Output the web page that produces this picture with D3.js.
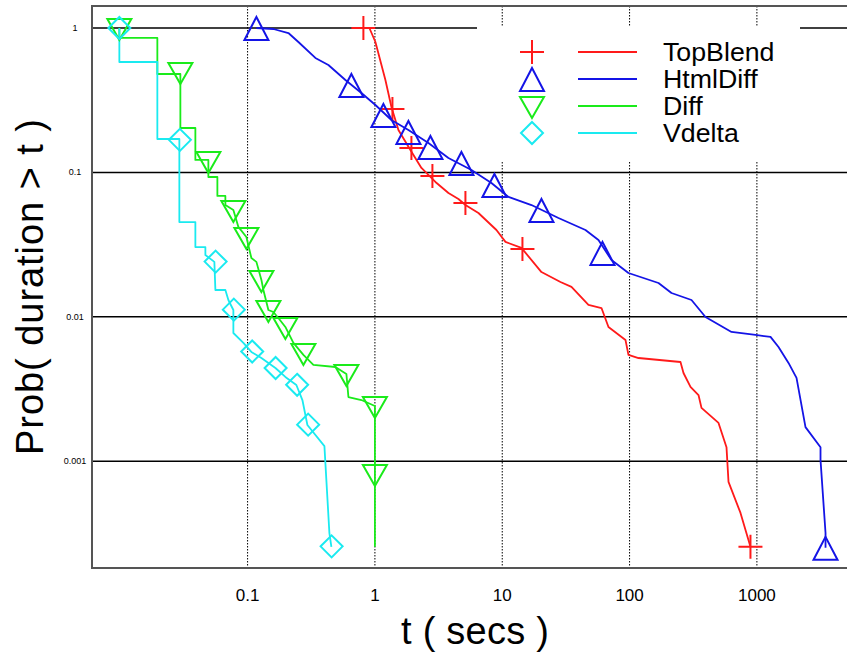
<!DOCTYPE html>
<html>
<head>
<meta charset="utf-8">
<style>
  body { margin: 0; background: #fff; }
  text { font-family: "Liberation Sans", Arial, Helvetica, sans-serif; fill: #000; }
</style>
</head>
<body>
<svg width="847" height="657"></svg>
<script src="https://d3js.org/d3.v7.min.js"></script>
<script>
// survival curves: [t (secs), Prob(duration > t)]
var seriesNames = ["TopBlend", "HtmlDiff", "Diff", "Vdelta"];

var topBlendLine = [[0.812,1],[0.905,1],[1.009,0.800],[1.209,0.436],[1.348,0.2838],[1.530,0.1966],[1.900,0.1429],
  [2.319,0.1073],[2.987,0.0858],[3.780,0.0720],[4.528,0.0654],[5.139,0.0594],[6.501,0.0523],[9.003,0.0399],
  [10.60,0.0330],[14.15,0.0300],[20.32,0.0204],[28.66,0.0174],[34.97,0.0161],[47.55,0.01207],[60.17,0.01150],
  [68.28,0.00850],[92.86,0.00691],[98.0,0.00544],[117.5,0.00518],[251.1,0.00486],[265.1,0.00408],[300.9,0.00327],
  [347.8,0.00287],[367.1,0.00234],[499.5,0.00184],[577.0,0.00125],[598.4,0.000718],[743.3,0.000438],[890,0.000255]];
var topBlendMarks = [[0.812,1],[1.373,0.2748],[1.935,0.1476],[2.829,0.0944],[5.139,0.0614],[14.41,0.0295],[890,0.000255]];

var htmlDiffLine = [[0.1173,1],[0.1594,0.984],[0.2092,0.923],[0.2506,0.800],[0.3408,0.620],[0.4312,0.554],[0.5865,0.436],
  [0.7834,0.3548],[1.009,0.2929],[1.348,0.2306],[1.833,0.1966],[2.633,0.1598],[3.780,0.1258],[5.731,0.1039],
  [8.226,0.0844],[11.19,0.0676],[16.96,0.0594],[27.64,0.0483],[45.04,0.0399],[56.98,0.0340],[72.10,0.0247],
  [98.0,0.0201],[168.7,0.01714],[213.4,0.01461],[306.4,0.01307],[394.7,0.00997],[631.7,0.00785],[975.0,0.00748],
  [1279,0.00725],[1478,0.00618],[1771,0.00479],[2047,0.00377],[2408,0.00172],[3159,0.00125],[3159,0.00102],
  [3459,0.000318],[3459,0.000251]];
var htmlDiffMarks = [[0.1173,1],[0.6536,0.403],[1.166,0.2496],[1.833,0.1905],[2.729,0.150],[4.780,0.1162],
  [8.684,0.0818],[20.32,0.0549],[61.26,0.0277],[3459,0.000251]];

var diffLine = [[0.00984,1],[0.00984,0.853],[0.01956,0.853],[0.01956,0.480],[0.02966,0.480],[0.02966,0.2030],
  [0.03890,0.2030],[0.03890,0.1219],[0.04921,0.1219],[0.04921,0.0929],[0.05792,0.0929],[0.05792,0.0687],
  [0.06693,0.0687],[0.06693,0.0594],[0.07734,0.0549],[0.08468,0.0419],[0.09786,0.0357],[0.1071,0.0255],
  [0.1173,0.0240],[0.1284,0.0180],[0.1331,0.01533],[0.1457,0.01114],[0.1594,0.01079],[0.1745,0.00981],
  [0.1981,0.00850],[0.2290,0.00659],[0.2744,0.00544],[0.3287,0.00464],[0.4895,0.00449],[0.5971,0.00402],
  [0.6193,0.00278],[0.7834,0.00265],[1,0.00241],[1,0.000255]];
var diffMarks = [[0.00984,1],[0.02966,0.496],[0.04921,0.120],[0.07734,0.0549],[0.09786,0.0357],[0.1284,0.0180],
  [0.1457,0.01114],[0.1981,0.00850],[0.2744,0.00562],[0.5971,0.00402],[1,0.00241],[1,0.000815]];

var vdeltaLine = [[0.00984,1],[0.00984,0.5814],[0.01956,0.5814],[0.01956,0.1703],[0.02912,0.1703],[0.02912,0.0453],
  [0.03890,0.0453],[0.03890,0.0304],[0.04662,0.0304],[0.04662,0.0268],[0.05484,0.0240],[0.05587,0.01533],
  [0.06693,0.01533],[0.07066,0.01307],[0.07734,0.01114],[0.07734,0.00772],[0.09268,0.00659],[0.1071,0.00571],
  [0.1284,0.00518],[0.1654,0.00442],[0.1981,0.00383],[0.2416,0.00337],[0.2600,0.00287],[0.2695,0.00265],
  [0.2950,0.00178],[0.4013,0.00127],[0.4391,0.000318],[0.4552,0.000255]];
var vdeltaMarks = [[0.00984,1],[0.0294,0.168],[0.0561,0.0241],[0.078,0.0112],[0.1087,0.00575],[0.166,0.00442],
  [0.245,0.00338],[0.299,0.00179],[0.457,0.000257]];

var xTicks = [0.1, 1, 10, 100, 1000];
var xTickLabels = ["0.1", "1", "10", "100", "1000"];
var yTicks = [1, 0.1, 0.01, 0.001];
var yTickLabels = ["1", "0.1", "0.01", "0.001"];

// styling
var colors = ["#ff1a1a", "#1414e6", "#1aeb1a", "#1aeaf0"];
var shapes = [
  "M-12,0H12M0,-12V12",            // plus
  "M0,-11L12,12L-12,12Z",          // triangle up
  "M-12,-9L12,-9L0,12Z",           // triangle down
  "M0,-11L11,0L0,11L-11,0Z"        // diamond
];

var svg = d3.select("svg"),
    plotLeft = 92, plotRight = 847, plotTop = 6, plotBottom = 568;

var x = d3.scaleLog().domain([0.006, 5100]).range([plotLeft, plotRight]);
var y = d3.scaleLog().domain([1.42, 0.000182]).range([plotTop, plotBottom]);

// grid
svg.append("g").selectAll("line").data(xTicks).join("line")
    .attr("x1", d => x(d)).attr("x2", d => x(d))
    .attr("y1", plotTop).attr("y2", plotBottom)
    .attr("stroke", "#000").attr("stroke-width", 1)
    .attr("stroke-dasharray", "1.5,1.5");

svg.append("g").selectAll("line").data(yTicks).join("line")
    .attr("x1", plotLeft).attr("x2", plotRight)
    .attr("y1", d => y(d)).attr("y2", d => y(d))
    .attr("stroke", "#000").attr("stroke-width", 1.5);

// frame
svg.append("path")
    .attr("d", "M" + plotRight + "," + plotTop + "H" + plotLeft + "V" + plotBottom + "H" + plotRight)
    .attr("fill", "none").attr("stroke", "#555").attr("stroke-width", 2);

// tick labels
svg.append("g").selectAll("text").data(xTicks).join("text")
    .attr("x", d => x(d)).attr("y", 601)
    .attr("text-anchor", "middle").attr("font-size", 17)
    .text((d, i) => xTickLabels[i]);

svg.append("g").selectAll("text").data(yTicks).join("text")
    .attr("x", 75).attr("y", d => y(d) + 3)
    .attr("text-anchor", "middle").attr("font-size", 9)
    .text((d, i) => yTickLabels[i]);

// axis titles
svg.append("text")
    .attr("x", 475).attr("y", 644)
    .attr("text-anchor", "middle").attr("font-size", 38)
    .attr("textLength", 148).attr("lengthAdjust", "spacing")
    .text("t ( secs )");

svg.append("text")
    .attr("transform", "translate(43,287) rotate(-90)")
    .attr("text-anchor", "middle").attr("font-size", 38)
    .attr("textLength", 336).attr("lengthAdjust", "spacing")
    .text("Prob( duration > t )");

// legend background hides the grid behind it
svg.append("rect")
    .attr("x", 477).attr("y", 26).attr("width", 323).attr("height", 136)
    .attr("fill", "#fff");

var lines = [topBlendLine, htmlDiffLine, diffLine, vdeltaLine];
var marks = [topBlendMarks, htmlDiffMarks, diffMarks, vdeltaMarks];

var line = d3.line().x(d => x(d[0])).y(d => y(d[1]));

lines.forEach(function(data, i) {
  svg.append("path")
      .attr("d", line(data))
      .attr("fill", "none")
      .attr("stroke", colors[i])
      .attr("stroke-width", 1.8)
      .attr("stroke-linejoin", "round");
});

marks.forEach(function(data, i) {
  svg.append("g").selectAll("path").data(data).join("path")
      .attr("transform", d => "translate(" + x(d[0]) + "," + y(d[1]) + ")")
      .attr("d", shapes[i])
      .attr("fill", "none")
      .attr("stroke", colors[i])
      .attr("stroke-width", 2);
});

// legend
var legend = svg.append("g").selectAll("g").data(seriesNames).join("g")
    .attr("transform", (d, i) => "translate(0," + (52 + i * 27) + ")");

legend.append("path")
    .attr("transform", "translate(532,0)")
    .attr("d", (d, i) => shapes[i])
    .attr("fill", "none")
    .attr("stroke", (d, i) => colors[i])
    .attr("stroke-width", 2);

legend.append("line")
    .attr("x1", 578).attr("x2", 637)
    .attr("stroke", (d, i) => colors[i])
    .attr("stroke-width", 2);

// the legend lettering is a little wider than Liberation Sans at this height
legend.append("text")
    .attr("transform", "translate(663,9) scale(1.07,1)")
    .attr("font-size", 25)
    .text(d => d);
</script>
</body>
</html>
